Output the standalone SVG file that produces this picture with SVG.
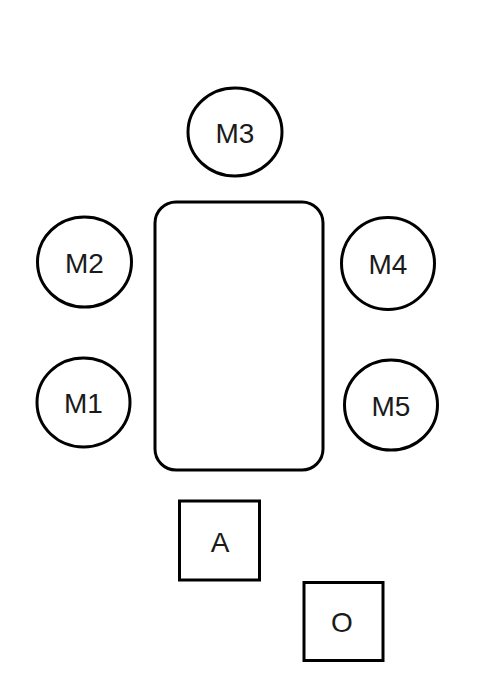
<svg xmlns="http://www.w3.org/2000/svg" width="485" height="686" viewBox="0 0 485 686">
<style>
.s{fill:#fff;stroke:#000;stroke-width:3}
.t{font-family:"Liberation Sans",Arial,sans-serif;font-size:28px;fill:#1a1a1a;text-anchor:middle;dominant-baseline:central}
</style>
<rect width="485" height="686" fill="#fff"/>
<g id="connectors"></g>
<g id="M3"><ellipse class="s" cx="235" cy="132" rx="47" ry="44"/><text class="t" x="235" y="133">M3</text></g>
<g id="M2"><ellipse class="s" cx="84.5" cy="262" rx="47" ry="45"/><text class="t" x="84.5" y="263">M2</text></g>
<g id="M4"><ellipse class="s" cx="388" cy="263.5" rx="46.5" ry="46"/><text class="t" x="388" y="264.5">M4</text></g>
<g id="M1"><ellipse class="s" cx="83.5" cy="402.5" rx="46.5" ry="44.5"/><text class="t" x="83.5" y="403.5">M1</text></g>
<g id="M5"><ellipse class="s" cx="391" cy="405" rx="46.5" ry="45"/><text class="t" x="391" y="406">M5</text></g>
<g id="table"><rect class="s" x="155" y="202" width="168" height="268" rx="21"/></g>
<g id="A"><rect class="s" x="179.5" y="501" width="80" height="79"/><text class="t" x="220" y="542">A</text></g>
<g id="O"><rect class="s" x="304" y="582.5" width="79" height="78"/><text class="t" x="342" y="622">O</text></g>
</svg>
